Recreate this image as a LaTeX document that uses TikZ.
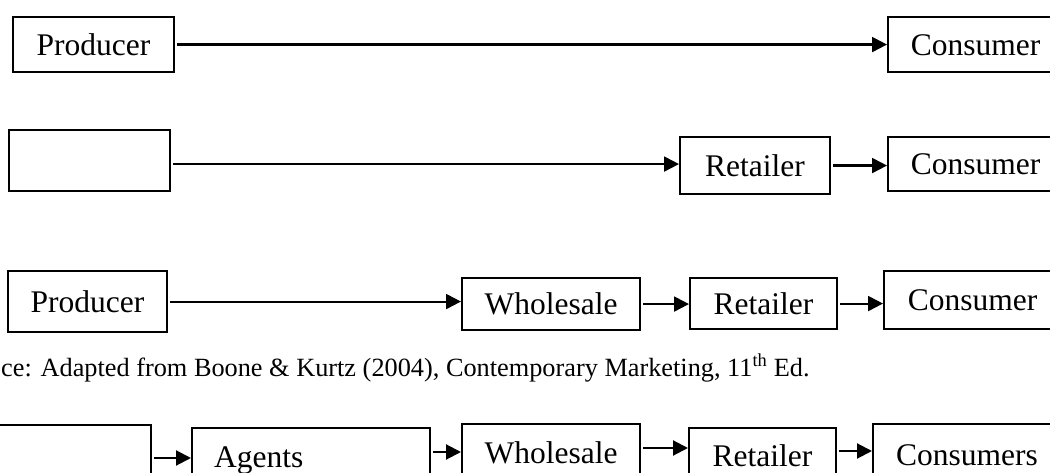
\documentclass[tikz,border=0pt]{standalone}
\usepackage{fontspec}
\setmainfont{Liberation Serif}
\usetikzlibrary{arrows.meta}

\begin{document}
\begin{tikzpicture}[
  x=1pt, y=-1pt,
  box/.style={draw, line width=2.1pt, anchor=north west, inner sep=0pt,
    font=\fontsize{31.5}{36}\selectfont, text height=21.5pt, text depth=0pt},
  arr/.style={-{Triangle[length=15pt, width=15pt]}, line width=2.1pt, shorten <=2pt}
]
  \clip (0,0) rectangle (1050,473);

  % producer direct to consumer
  \node[box, minimum width=161pt, minimum height=55pt] (prodA) at (12,16) {Producer};
  \node[box, minimum width=175pt, minimum height=55pt] (consA) at (887,16) {Consumer};
  \draw[arr] (prodA) -- (prodA -| consA.west);

  % via retailer
  \node[box, minimum width=161pt, minimum height=61pt] (blankB) at (8,129) {};
  \node[box, minimum width=150pt, minimum height=57pt] (retB) at (679,136) {Retailer};
  \node[box, minimum width=175pt, minimum height=54pt] (consB) at (887,136) {Consumer};
  \draw[arr] ([yshift=-3.5pt]blankB.east) -- ([yshift=-3.5pt]blankB.east -| retB.west);
  \draw[arr] (retB) -- (retB -| consB.west);

  % via wholesale and retailer
  \node[box, minimum width=159pt, minimum height=61pt] (prodC) at (7,270) {Producer};
  \node[box, minimum width=178pt, minimum height=52pt] (wholC) at (461,277) {Wholesale};
  \node[box, minimum width=147pt, minimum height=51pt] (retC) at (689,277) {Retailer};
  \node[box, minimum width=177pt, minimum height=58pt] (consC) at (883,270) {Consumer};
  \draw[arr] (prodC) -- (prodC -| wholC.west);
  \draw[arr] (wholC) -- (wholC -| retC.west);
  \draw[arr] (retC) -- (retC -| consC.west);

  \node[anchor=base west, inner sep=0pt, font=\fontsize{26.3}{30}\selectfont] (source) at (1,376)
    {ce: Adapted from Boone \& Kurtz (2004), Contemporary Marketing, 11\textsuperscript{th} Ed.};

  % via agents
  \node[box, minimum width=160pt, minimum height=70pt] (srcD) at (-10,424) {};
  \node[box, minimum height=58pt, text width=194pt, inner xsep=22pt, align=left] (agentsD) at (191,427) {Agents};
  \node[box, minimum width=178pt, minimum height=58pt] (wholD) at (461,423) {Wholesale};
  \node[box, minimum width=147pt, minimum height=56pt] (retD) at (688,427) {Retailer};
  \node[box, minimum width=188pt, minimum height=62pt] (consD) at (872,423) {Consumers};
  \draw[arr] ([yshift=-34pt]srcD.north east) -- ([yshift=-34pt]srcD.north east -| agentsD.west);
  \draw[arr] ([yshift=-25pt]agentsD.north east) -- ([yshift=-25pt]agentsD.north east -| wholD.west);
  \draw[arr] ([yshift=-25pt]wholD.north east) -- ([yshift=-25pt]wholD.north east -| retD.west);
  \draw[arr] ([yshift=-24pt]retD.north east) -- ([yshift=-24pt]retD.north east -| consD.west);
\end{tikzpicture}
\end{document}
